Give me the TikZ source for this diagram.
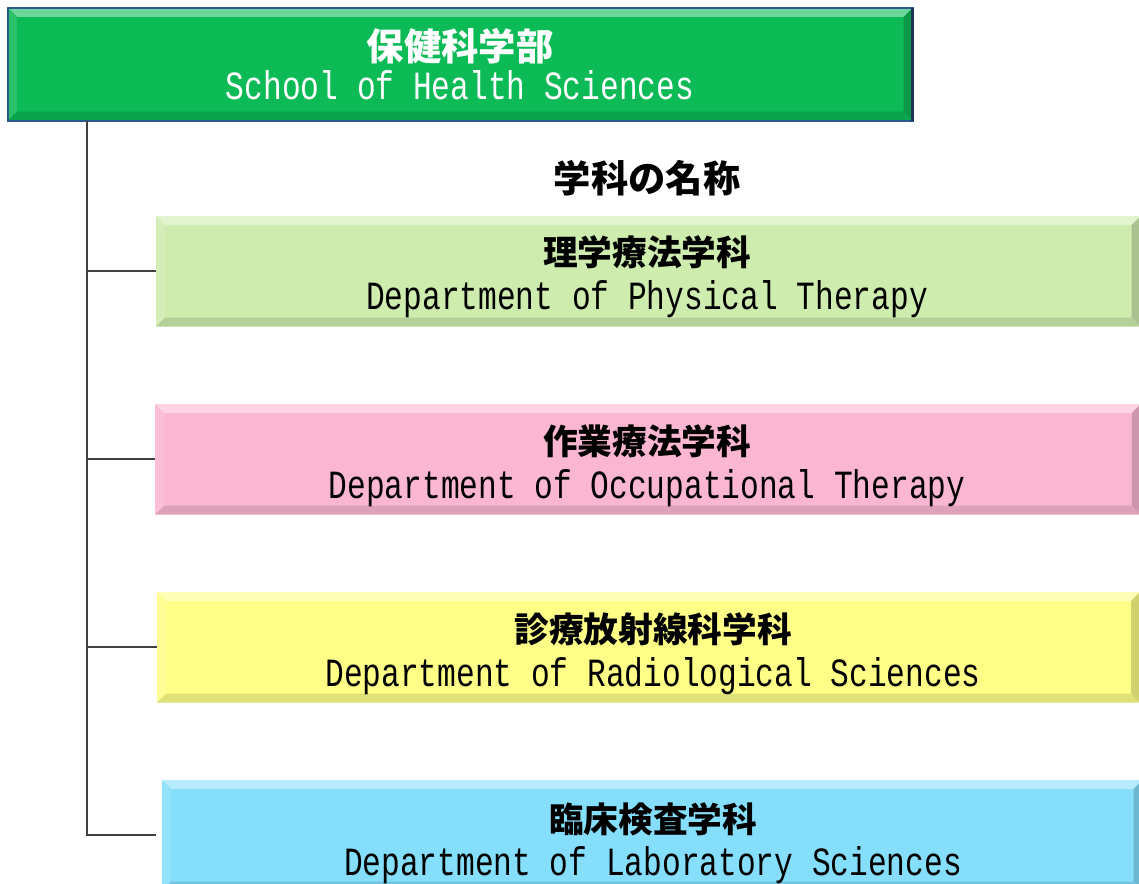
\documentclass[tikz,border=0pt]{standalone}
\usepackage{fontspec}
\usetikzlibrary{calc}
\newfontfamily\jpfont{Noto Sans CJK JP}
\newfontfamily\enfont{Liberation Mono}[FakeStretch=0.78]
\definecolor{cgreen}{RGB}{12,186,86}
\definecolor{cborder}{RGB}{45,90,140}
\definecolor{clgreen}{RGB}{207,236,175}
\definecolor{cpink}{RGB}{251,183,210}
\definecolor{cyellow}{RGB}{255,255,136}
\definecolor{cblue}{RGB}{132,222,252}
\definecolor{cline}{RGB}{64,64,64}
\newcommand{\bevelbox}[2]{%
  \fill[#2!60!white] (#1.north west) -- (#1.north east) -- ($(#1.north east)+(-9,9)$) -- ($(#1.north west)+(9,9)$) -- cycle;
  \fill[#2!88!white] (#1.north west) -- ($(#1.north west)+(9,9)$) -- ($(#1.south west)+(9,-9)$) -- (#1.south west) -- cycle;
  \fill[#2!88!black] (#1.south west) -- ($(#1.south west)+(9,-9)$) -- ($(#1.south east)+(-9,-9)$) -- (#1.south east) -- cycle;
  \fill[#2!82!black] (#1.north east) -- ($(#1.north east)+(-9,9)$) -- ($(#1.south east)+(-9,-9)$) -- (#1.south east) -- cycle;
}
\tikzset{
  dept/.style={rectangle, inner sep=0pt, anchor=north west, minimum height=82.5pt},
  jplabel/.style={font=\jpfont\bfseries\fontsize{26}{30}\selectfont, anchor=base, inner sep=0pt},
  jpbig/.style={font=\jpfont\bfseries\fontsize{28}{32}\selectfont, anchor=base, inner sep=0pt},
  enlabel/.style={font=\enfont\fontsize{30}{32}\selectfont, anchor=base, inner sep=0pt},
  conn/.style={draw=cline, line width=1.2pt},
}
\begin{document}
\begin{tikzpicture}[x=0.75pt, y=-0.75pt]
\useasboundingbox (0,0) rectangle (1139,884);
\begin{scope}
\clip (0,0) rectangle (1139,884);
% top box
\node[dept, fill=cgreen, minimum width=678pt, minimum height=84pt] (school) at (8,8) {};
\bevelbox{school}{cgreen}
\draw[cborder, line width=1.5pt] (school.north west) rectangle (school.south east);
\draw[cborder!60!black, line width=2.5pt] (school.north east) -- (school.south east);
\node[jpbig, text=white] (schooljp) at (460,61) {保健科学部};
\node[enlabel, text=white] (schoolen) at (460,100) {School of Health Sciences};

\node[jpbig] (meisho) at (647,193) {学科の名称};

% departments
\node[dept, fill=clgreen, minimum width=738pt] (pt) at (156,216) {};
\bevelbox{pt}{clgreen}
\node[jplabel] (ptjp) at (647,266) {理学療法学科};
\node[enlabel] (pten) at (647,310) {Department of Physical Therapy};

\node[dept, fill=cpink, minimum width=739pt] (ot) at (155,404) {};
\bevelbox{ot}{cpink}
\node[jplabel] (otjp) at (647,454) {作業療法学科};
\node[enlabel] (oten) at (647,498) {Department of Occupational Therapy};

\node[dept, fill=cyellow, minimum width=737pt] (rs) at (157,592) {};
\bevelbox{rs}{cyellow}
\node[jplabel] (rsjp) at (653,642) {診療放射線科学科};
\node[enlabel] (rsen) at (653,686) {Department of Radiological Sciences};

\node[dept, fill=cblue, minimum width=735pt] (ls) at (162,780) {};
\bevelbox{ls}{cblue}
\node[jplabel] (lsjp) at (653,832) {臨床検査学科};
\node[enlabel] (lsen) at (653,875) {Department of Laboratory Sciences};

% connectors
\coordinate (trunk) at (87,0);
\coordinate (lsend) at (156,0);
\draw[conn] (trunk |- school.south) |- (pt.west);
\draw[conn] (trunk |- school.south) |- (ot.west);
\draw[conn] (trunk |- school.south) |- (rs.west);
\draw[conn] (trunk |- school.south) |- (lsend |- ls.west);
\end{scope}
\end{tikzpicture}
\end{document}
